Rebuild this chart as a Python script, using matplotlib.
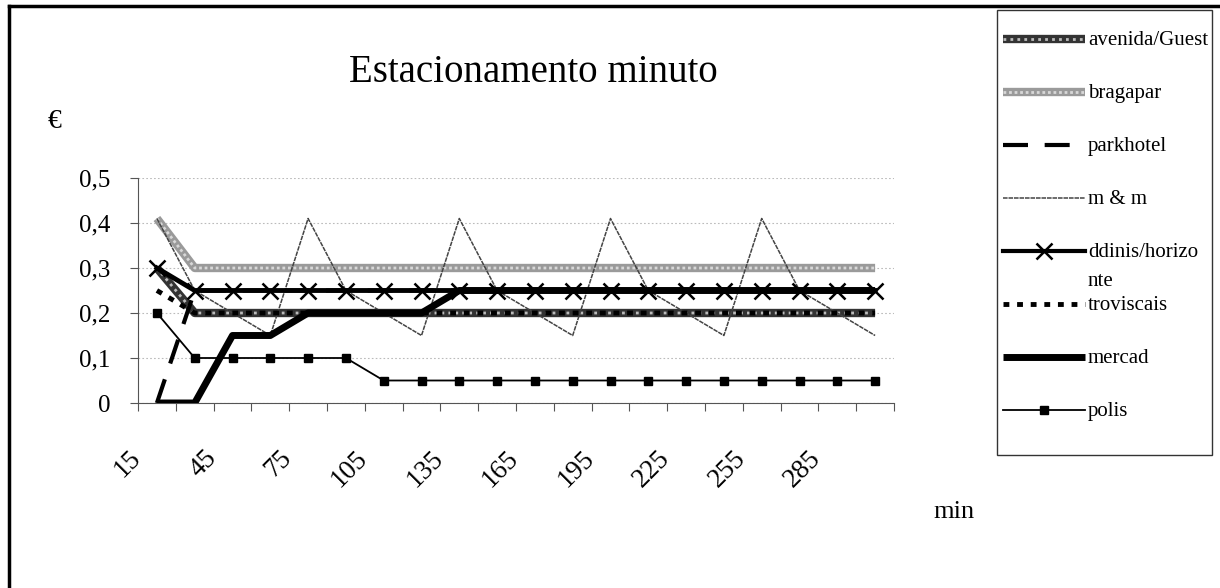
import matplotlib
matplotlib.use('Agg')
import matplotlib.pyplot as plt
import matplotlib.transforms as mtransforms
from matplotlib.lines import Line2D
from matplotlib.patches import Rectangle

plt.rcParams['font.family'] = ['Liberation Serif', 'DejaVu Serif']

# minutes parked, one column per 15 min
minutos = [15, 30, 45, 60, 75, 90, 105, 120, 135, 150,
           165, 180, 195, 210, 225, 240, 255, 270, 285, 300]

avenida = [0.3] + [0.2] * 19
bragapar = [0.41] + [0.3] * 19
parkhotel = [0, 0.25] + [0.25] * 18
mm = [0.41, 0.25, 0.2, 0.15] * 5
ddinis = [0.3] + [0.25] * 19
troviscais = [0.25] + [0.2] * 19
mercad = [0, 0, 0.15, 0.15, 0.2, 0.2, 0.2, 0.2] + [0.25] * 12
polis = [0.2] + [0.1] * 5 + [0.05] * 14

nomes = ['avenida/Guest', 'bragapar', 'parkhotel', 'm & m',
         'ddinis/horizo\nnte', 'troviscais', 'mercad', 'polis']

W, H = 1220, 588
fig = plt.figure(figsize=(W / 100, H / 100), dpi=100)
ax = fig.add_axes([138 / W, 1 - 403 / H, (894 - 138) / W, 225 / H])

x = list(range(len(minutos)))

# line styles, shared by the plot and the legend keys
estilos = [
    [dict(color='#333333', lw=6, solid_capstyle='butt', zorder=3),
     dict(color='#bbbbbb', lw=2, ls=(0, (1, 1.5)), zorder=3)],
    [dict(color='#9a9a9a', lw=6, solid_capstyle='butt', zorder=2),
     dict(color='#d8d8d8', lw=2, ls=(0, (1, 1)), zorder=2)],
    [dict(color='black', lw=3, ls=(0, (6, 4)), zorder=4)],
    [dict(color='#444444', lw=1.1, ls=(0, (3, 0.6)), zorder=4)],
    [dict(color='black', lw=3.5, marker='x', ms=12, mew=1.8, zorder=6)],
    [dict(color='black', lw=3.5, ls=(0, (1.2, 1.6)), zorder=4)],
    [dict(color='black', lw=5, solid_capstyle='butt', zorder=5)],
    [dict(color='black', lw=1.3, marker='s', ms=6, zorder=6)],
]
series = [avenida, bragapar, parkhotel, mm, ddinis, troviscais, mercad, polis]

for vals, est in zip(series, estilos):
    for kw in est:
        ax.plot(x, vals, **kw)

ax.set_xlim(-0.5, len(minutos) - 0.5)
ax.set_ylim(0, 0.5)
ax.set_yticks([0, 0.1, 0.2, 0.3, 0.4, 0.5])
ax.set_yticklabels(['0', '0,1', '0,2', '0,3', '0,4', '0,5'], fontsize=18)
ax.yaxis.grid(True, color='#bbbbbb', ls=(0, (1.5, 2)), lw=0.8)
ax.set_axisbelow(True)
for s in ['top', 'right']:
    ax.spines[s].set_visible(False)
for s in ['left', 'bottom']:
    ax.spines[s].set_color('#555555')
ax.tick_params(axis='y', direction='out', length=6, pad=14, color='#555555')

# ticks between categories, labels on every second category
ax.set_xticks([i - 0.5 for i in range(len(minutos) + 1)])
ax.set_xticklabels([])
ax.tick_params(axis='x', which='major', direction='out', length=6, color='#555555')
ax.set_xticks(x[::2], minor=True)
ax.set_xticklabels([str(m) for m in minutos[::2]], minor=True, fontsize=19.5,
                   rotation=45, ha='right', va='center', rotation_mode='anchor')
ax.tick_params(axis='x', which='minor', length=0, pad=37)
off = mtransforms.ScaledTranslation(-20 / 100, 0, fig.dpi_scale_trans)
for lab in ax.get_xticklabels(minor=True):
    lab.set_transform(lab.get_transform() + off)

fig.text(533 / W, 1 - 73 / H, 'Estacionamento minuto', fontsize=28,
         ha='center', va='center')
fig.text(55 / W, 1 - 121 / H, '€', fontsize=20, ha='center', va='center')
fig.text(954 / W, 1 - 512 / H, 'min', fontsize=19, ha='center', va='center')

# legend box on the right
fig.add_artist(Rectangle((997 / W, 1 - 455 / H), 215 / W, 445 / H,
                         transform=fig.transFigure, fill=False,
                         edgecolor='#333333', lw=1))
for i, (nome, est) in enumerate(zip(nomes, estilos)):
    yc = 1 - (39 + 53 * i) / H
    xs = [1003 / W, 1044 / W, 1085 / W]
    for kw in est:
        kw = dict(kw)
        kw.pop('zorder', None)
        if 'marker' in kw:
            kw['markevery'] = [1]
            kw['lw'] = min(kw['lw'], 3)
        fig.add_artist(Line2D(xs, [yc] * 3, transform=fig.transFigure, **kw))
    linhas = nome.split('\n')
    for j, linha in enumerate(linhas):
        fig.text(1088 / W, yc - (6 + 29 * j) / H, linha, fontsize=15,
                 ha='left', va='baseline')

# outer chart border (left and top edges)
fig.add_artist(Line2D([0.007, 0.007], [0, 0.99], transform=fig.transFigure,
                      color='black', lw=2.5))
fig.add_artist(Line2D([0.007, 1], [0.99, 0.99], transform=fig.transFigure,
                      color='black', lw=2.5))

fig.savefig('out.png', dpi=100)
